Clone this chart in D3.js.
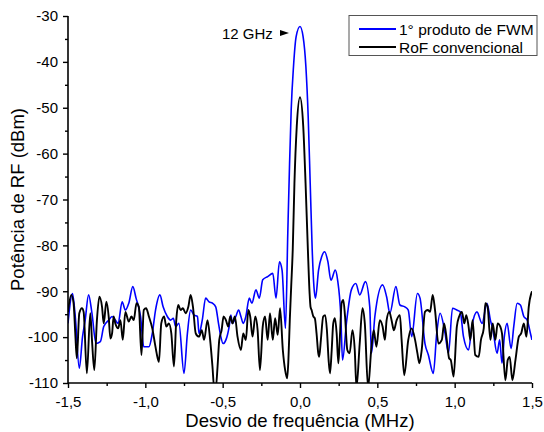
<!DOCTYPE html>
<html>
<head>
<meta charset="utf-8">
<script src="https://cdn.jsdelivr.net/npm/d3@7"></script>
<style>
  body { margin: 0; background: #fff; }
  svg { display: block; font-family: "Liberation Sans", Arial, sans-serif; }
</style>
</head>
<body>
<div id="chart"></div>
<script>
// ---- data ----
const fwmFreq = [-1.5,-1.471,-1.453,-1.427,-1.406,-1.389,-1.367,-1.345,-1.319,-1.291,-1.269,-1.237,-1.215,-1.194,-1.176,-1.15,-1.129,-1.107,-1.081,-1.06,-1.031,-1.01,-0.977,-0.955,-0.934,-0.906,-0.885,-0.858,-0.837,-0.819,-0.804,-0.783,-0.75,-0.728,-0.707,-0.685,-0.663,-0.653,-0.632,-0.61,-0.588,-0.566,-0.545,-0.527,-0.512,-0.497,-0.479,-0.458,-0.447,-0.437,-0.415,-0.397,-0.382,-0.367,-0.35,-0.328,-0.311,-0.285,-0.263,-0.241,-0.209,-0.176,-0.155,-0.133,-0.116,-0.094,-0.079,-0.068,-0.057,-0.042,-0.025,0,0.02,0.038,0.053,0.066,0.079,0.09,0.1,0.12,0.14,0.159,0.18,0.2,0.228,0.243,0.264,0.275,0.3,0.332,0.361,0.386,0.423,0.451,0.462,0.484,0.534,0.56,0.581,0.62,0.646,0.678,0.7,0.722,0.759,0.776,0.808,0.83,0.862,0.884,0.906,0.938,0.96,0.986,1.014,1.036,1.057,1.09,1.111,1.144,1.177,1.209,1.231,1.248,1.274,1.291,1.306,1.321,1.339,1.365,1.382,1.404,1.425,1.447,1.469,1.49,1.5];
const fwmPower = [-97,-90.5,-95.5,-106.8,-99.9,-96.3,-90.8,-94.8,-101.4,-101,-97.7,-96.3,-95.5,-96.3,-97,-92.3,-94.1,-92.6,-89,-91.5,-95.5,-102.1,-102.1,-99.2,-94.1,-90.8,-93.4,-95.5,-96.3,-95.9,-97.7,-97,-107.9,-99.2,-94.1,-95.2,-95.5,-99.2,-96.3,-91.5,-92.3,-92.6,-93.4,-97,-99.9,-101.4,-100.6,-97.7,-95.2,-97,-95.5,-94.1,-95.5,-97,-95.5,-91.5,-92.6,-89.7,-91.5,-87.5,-86.8,-86.1,-91.5,-83.6,-85.4,-98.1,-77.4,-62.9,-50.5,-41,-34.5,-32.3,-34.5,-41,-52,-66.5,-81,-89,-91.5,-85.4,-82.5,-81.4,-83.5,-87.6,-85.4,-87.5,-95.5,-105,-97,-89.7,-88.3,-90.8,-87.9,-93.4,-103.5,-95.5,-88.6,-91.2,-94.8,-89,-93,-93.4,-94.1,-99.9,-90.5,-91.5,-101.4,-103.9,-107.9,-99.2,-94.8,-99.2,-103.5,-93.7,-94.1,-94.5,-99.9,-102.8,-97.7,-94.5,-97,-92.6,-96.3,-98.5,-103.5,-100.6,-105.7,-99.9,-97,-102.5,-97.7,-92.6,-93,-95.5,-96.3,-99.2,-100.6];

const rofFreq = [-1.5,-1.479,-1.464,-1.453,-1.443,-1.427,-1.41,-1.399,-1.378,-1.356,-1.345,-1.33,-1.313,-1.297,-1.28,-1.269,-1.252,-1.237,-1.226,-1.215,-1.205,-1.194,-1.176,-1.161,-1.146,-1.129,-1.107,-1.09,-1.075,-1.057,-1.042,-1.025,-1.01,-0.995,-0.977,-0.955,-0.938,-0.927,-0.912,-0.897,-0.879,-0.864,-0.848,-0.832,-0.815,-0.8,-0.787,-0.772,-0.757,-0.739,-0.722,-0.707,-0.692,-0.674,-0.653,-0.635,-0.62,-0.598,-0.581,-0.566,-0.555,-0.544,-0.533,-0.522,-0.507,-0.494,-0.479,-0.464,-0.451,-0.437,-0.421,-0.404,-0.382,-0.367,-0.35,-0.334,-0.322,-0.307,-0.289,-0.274,-0.259,-0.241,-0.226,-0.209,-0.194,-0.176,-0.161,-0.144,-0.129,-0.111,-0.096,-0.083,-0.075,-0.066,-0.057,-0.047,-0.036,-0.021,0,0.021,0.036,0.051,0.062,0.068,0.075,0.086,0.096,0.107,0.118,0.124,0.135,0.15,0.163,0.174,0.185,0.194,0.205,0.215,0.226,0.237,0.248,0.258,0.269,0.28,0.291,0.306,0.321,0.339,0.354,0.365,0.386,0.404,0.419,0.44,0.462,0.477,0.494,0.516,0.534,0.549,0.56,0.577,0.592,0.607,0.625,0.646,0.657,0.674,0.7,0.722,0.744,0.759,0.772,0.787,0.808,0.826,0.841,0.858,0.873,0.895,0.917,0.932,0.949,0.964,0.975,0.993,1.014,1.029,1.047,1.062,1.075,1.09,1.101,1.116,1.133,1.155,1.17,1.188,1.198,1.213,1.231,1.246,1.263,1.278,1.295,1.306,1.328,1.343,1.356,1.373,1.393,1.415,1.43,1.447,1.464,1.479,1.5];
const rofPower = [-94.5,-90.8,-92.6,-99.2,-104.6,-94.8,-93.7,-94.5,-107.9,-94.8,-100.6,-107.2,-96.3,-91.2,-93.4,-97,-92.3,-95.5,-100.3,-99.2,-95.5,-97,-98.1,-96.3,-100.6,-94.5,-96.6,-95.5,-96.3,-92.6,-93.4,-103.9,-94.1,-93.7,-95.5,-98.1,-101.4,-103.5,-105.4,-97,-95.5,-97.7,-97,-99.2,-106.4,-96.3,-93,-94.1,-93.7,-94.8,-93.4,-90.8,-93.4,-99.2,-99.9,-98.5,-100.6,-96.3,-100.6,-106.4,-111,-111,-106.4,-100.6,-98.5,-95.5,-96.3,-97.7,-95.5,-97,-95.5,-99.9,-102.8,-99.2,-100.6,-94.1,-95.5,-99.9,-95.5,-98.5,-107.2,-97.7,-95.5,-100.6,-94.8,-100.6,-95.9,-99.5,-93.7,-102.8,-107.2,-109,-105,-96.3,-89,-81,-66.5,-54.1,-47.7,-54.1,-66.5,-81,-90.4,-93.4,-94.1,-95.5,-95.9,-99.2,-103.5,-104.3,-100.6,-95.5,-95.2,-98.5,-105,-107.9,-102.8,-97,-95.9,-99.2,-105.7,-99.9,-92.6,-91.9,-95.4,-102.8,-103.5,-98.5,-102.8,-111,-101.4,-93.7,-97,-111,-102.1,-98.5,-102.1,-96.3,-97.7,-100.6,-96.3,-94.5,-96.3,-98.5,-96.3,-95.2,-100.6,-108.3,-100.6,-98.1,-100.6,-103.5,-105.7,-102.8,-94.5,-94.1,-94.5,-90.8,-94.1,-101.4,-100.6,-97,-100.6,-104.6,-105,-108.6,-97.7,-95.5,-94.5,-97,-95.2,-97.7,-100.6,-96.3,-103.9,-104.3,-100.6,-98.1,-92.6,-93.4,-100.6,-97,-100.6,-97,-97.7,-99.2,-109.4,-105,-104.3,-109.4,-105,-99.9,-99.2,-97,-99.9,-93.4,-90];

const xTicks = [-1.5, -1, -0.5, 0, 0.5, 1, 1.5];
const xTickLabels = ["-1,5", "-1,0", "-0,5", "0,0", "0,5", "1,0", "1,5"];
const xMinorTicks = [-1.25, -0.75, -0.25, 0.25, 0.75, 1.25];
const yTicks = [-110, -100, -90, -80, -70, -60, -50, -40, -30];
const yTickLabels = ["-110", "-100", "-90", "-80", "-70", "-60", "-50", "-40", "-30"];
const yMinorTicks = [-105, -95, -85, -75, -65, -55, -45, -35];
const seriesNames = ["1° produto de FWM", "RoF convencional"];
const seriesColors = ["#0000ff", "#000000"];

// ---- setup ----
const width = 544, height = 432;
const margin = { top: 16, right: 12, bottom: 49, left: 68 };

const svg = d3.select("#chart").append("svg")
    .attr("width", width)
    .attr("height", height);

const x = d3.scaleLinear().domain([-1.5, 1.5]).range([margin.left, width - margin.right]);
const y = d3.scaleLinear().domain([-110, -30]).range([height - margin.bottom, margin.top]);

svg.append("clipPath").attr("id", "plot-clip")
  .append("rect")
    .attr("x", margin.left)
    .attr("y", margin.top - 2)
    .attr("width", width - margin.left - margin.right)
    .attr("height", height - margin.top - margin.bottom + 2);

// ---- lines ----
const line = d3.line()
    .x(d => x(d[0]))
    .y(d => y(d[1]))
    .curve(d3.curveMonotoneX);

const fwm = fwmFreq.map((f, i) => [f, fwmPower[i]]);
const rof = rofFreq.map((f, i) => [f, rofPower[i]]);

const plot = svg.append("g").attr("clip-path", "url(#plot-clip)");

plot.append("path")
    .datum(fwm)
    .attr("fill", "none")
    .attr("stroke", seriesColors[0])
    .attr("stroke-width", 1.6)
    .attr("d", line);

plot.append("path")
    .datum(rof)
    .attr("fill", "none")
    .attr("stroke", seriesColors[1])
    .attr("stroke-width", 1.9)
    .attr("d", line);

// ---- axes ----
const xAxis = svg.append("g")
    .attr("transform", `translate(0, ${height - margin.bottom})`)
    .call(d3.axisBottom(x).tickValues(xTicks).tickSize(5).tickPadding(8)
        .tickFormat((d, i) => xTickLabels[i]));

svg.append("g")
    .attr("transform", `translate(0, ${height - margin.bottom})`)
    .call(d3.axisBottom(x).tickValues(xMinorTicks).tickSize(3).tickFormat(""))
    .select(".domain").remove();

const yAxis = svg.append("g")
    .attr("transform", `translate(${margin.left}, 0)`)
    .call(d3.axisLeft(y).tickValues(yTicks).tickSize(5).tickPadding(5)
        .tickFormat((d, i) => yTickLabels[i]));

svg.append("g")
    .attr("transform", `translate(${margin.left}, 0)`)
    .call(d3.axisLeft(y).tickValues(yMinorTicks).tickSize(3).tickFormat(""))
    .select(".domain").remove();

svg.selectAll(".domain").attr("stroke-width", 1.6);
svg.selectAll(".tick line").attr("stroke-width", 1.4);
svg.selectAll(".tick text").style("font-size", "15px").attr("fill", "#000");

// no outer ticks on the axis lines
xAxis.select(".domain").attr("d", `M${x(-1.5)},0H${x(1.5)}`);
yAxis.select(".domain").attr("d", `M0,${y(-110)}V${y(-30)}`);

// ---- labels ----
svg.append("text")
    .attr("x", (margin.left + width - margin.right) / 2)
    .attr("y", 427)
    .attr("text-anchor", "middle")
    .style("font-size", "18.5px")
    .text("Desvio de frequência (MHz)");

svg.append("text")
    .attr("transform", "rotate(-90)")
    .attr("x", -(margin.top + height - margin.bottom) / 2)
    .attr("y", 24)
    .attr("text-anchor", "middle")
    .style("font-size", "18.5px")
    .text("Potência de RF (dBm)");

// ---- annotation ----
svg.append("text")
    .attr("x", 222)
    .attr("y", 38.5)
    .style("font-size", "15px")
    .text("12 GHz");

svg.append("path")
    .attr("d", "M280,30L289,33L280,36Z")
    .attr("fill", "#000");

// ---- legend ----
const legend = svg.append("g");
legend.append("rect")
    .attr("x", 349).attr("y", 15.5)
    .attr("width", 188).attr("height", 40)
    .attr("fill", "#fff")
    .attr("stroke", "#555")
    .attr("stroke-width", 1);

seriesNames.forEach((name, i) => {
    const ly = 29 + i * 18;
    legend.append("line")
        .attr("x1", 359).attr("x2", 396)
        .attr("y1", ly).attr("y2", ly)
        .attr("stroke", seriesColors[i])
        .attr("stroke-width", 1.8);
    legend.append("text")
        .attr("x", 399).attr("y", ly + 5.5)
        .style("font-size", "15.5px")
        .text(name);
});
</script>
</body>
</html>
